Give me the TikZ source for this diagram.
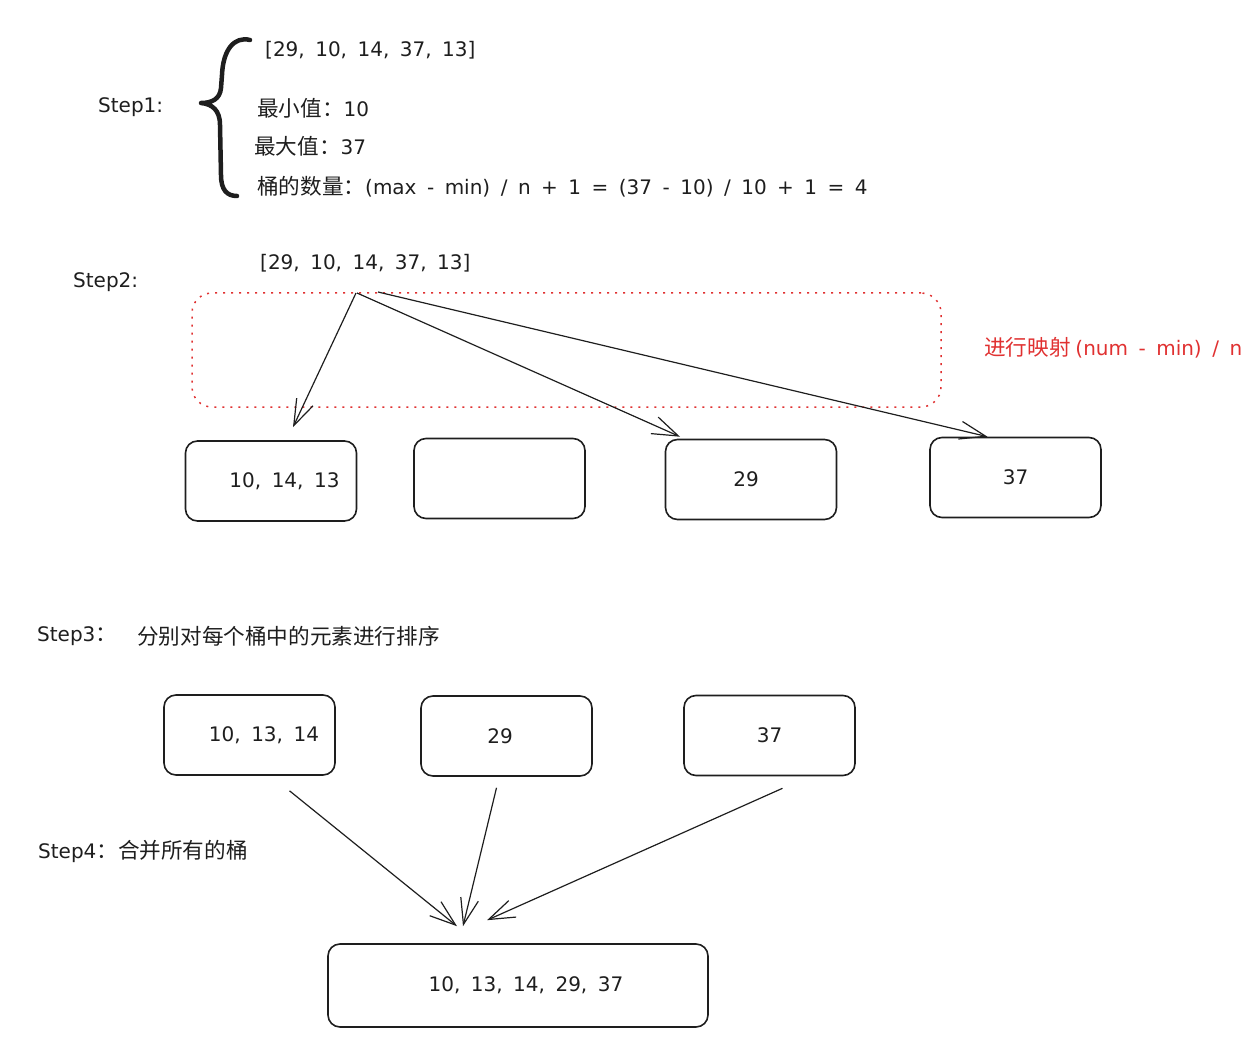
\documentclass[tikz,border=0pt]{standalone}
\usepackage{fontspec}
\setmainfont{DejaVu Sans}[WordSpace=1.65]
\newfontfamily\cjk{Noto Sans CJK SC}[Scale=1.08]
\usetikzlibrary{arrows.meta}
\definecolor{ink}{HTML}{1E1E1E}
\definecolor{exred}{HTML}{E03131}
\tikzset{
  txt/.style={anchor=west, inner sep=0pt, text=ink, font=\fontsize{20}{24}\selectfont},
  bucket/.style={draw=ink, line width=1.6pt, rounded corners=12pt, minimum width=#1, minimum height=80pt, inner sep=0pt, text=ink, font=\fontsize{20}{24}\selectfont},
  bucket/.default=171pt,
  arr/.style={draw=ink, line width=1.2pt, -{Straight Barb[length=26pt,width=18pt,line width=1.2pt]}},
}
\begin{document}
\begin{tikzpicture}[x=1pt,y=-1pt]
\useasboundingbox (0,0) rectangle (1255,1048);
% ---------- Step 1 ----------
\node[txt] (s1) at (98,107) {Step1:};
\draw[ink, line width=4.5pt, line cap=round, line join=round]
  (250,40) .. controls (234,36) and (223,50) .. (222,75) -- (221,88)
  .. controls (220,99) and (212,103) .. (201,103)
  .. controls (212,104) and (220,110) .. (220,125) -- (221,175)
  .. controls (221,190) and (227,196) .. (237,196);
\node[txt] (arr1) at (265,50) {[29, 10, 14, 37, 13]};
\node[txt] (min) at (257,108) {{\cjk 最小值：}10};
\node[txt] (max) at (254,146) {{\cjk 最大值：}37};
\node[txt] (cnt) at (257,187) {{\cjk 桶的数量：}(max - min) / n + 1 = (37 - 10) / 10 + 1 = 4};
% ---------- Step 2 ----------
\node[txt] (s2) at (73,282) {Step2:};
\node[txt] (arr2) at (260,263) {[29, 10, 14, 37, 13]};
\node[draw=exred, line width=1.5pt, dash pattern=on 2pt off 6pt, rounded corners=20pt,
      minimum width=749pt, minimum height=114pt, inner sep=0pt] (map) at (566.5,350) {};
\node[txt, text=exred] (maplbl) at (984,348) {{\cjk 进行映射 }(num - min) / n};
\node[bucket] (b1) at (271,481) {\hspace*{27pt}10, 14, 13};
\node[bucket] (b2) at (499.5,478.5) {};
\node[bucket] (b3) at (751,479.5) {\hspace*{-10pt}29};
\node[bucket] (b4) at (1015.5,477.5) {37};
\draw[arr] ([xshift=96pt,yshift=-30pt]arr2.west) -- ([xshift=22pt,yshift=13pt]b1.north);
\draw[arr] ([xshift=97pt,yshift=-30pt]arr2.west) -- ([xshift=-71pt,yshift=2pt]b3.north);
\draw[arr] ([xshift=118pt,yshift=-29pt]arr2.west) -- ([xshift=-28pt,yshift=0pt]b4.north);
% ---------- Step 3 ----------
\node[txt] (s3) at (37,636) {Step3{\cjk ：}};
\node[txt] (sort) at (137,636) {\cjk 分别对每个桶中的元素进行排序};
\node[bucket] (c1) at (249.5,735) {\hspace*{29pt}10, 13, 14};
\node[bucket] (c2) at (506.5,736) {\hspace*{-13pt}29};
\node[bucket] (c3) at (769.5,735.5) {37};
% ---------- Step 4 ----------
\node[txt] (s4) at (38,851) {Step4{\cjk ：合并所有的桶}};
\node[bucket=380pt, minimum height=83pt] (fin) at (518,985.5) {\hspace*{16pt}10, 13, 14, 29, 37};
\draw[arr] ([xshift=40pt,yshift=-15pt]c1.south) -- ([xshift=-61pt,yshift=17pt]fin.north);
\draw[arr] ([xshift=-10pt,yshift=-11pt]c2.south) -- ([xshift=-55pt,yshift=17pt]fin.north);
\draw[arr] ([xshift=13pt,yshift=-12pt]c3.south) -- ([xshift=-31pt,yshift=23pt]fin.north);
\end{tikzpicture}
\end{document}
